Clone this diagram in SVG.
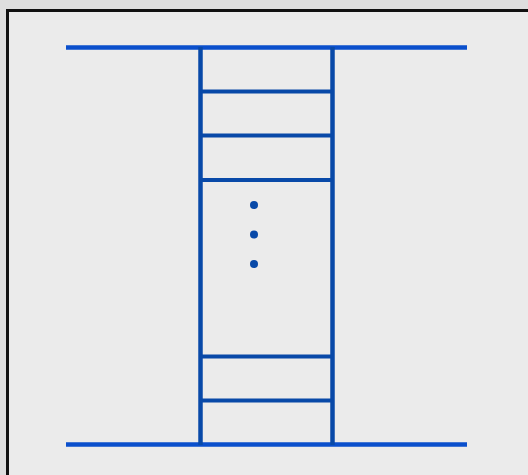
<svg xmlns="http://www.w3.org/2000/svg" width="528" height="475" viewBox="0 0 528 475">
<defs>
<style>
.rail{stroke:#0a4fcc;stroke-width:4.5;fill:none}
.post{stroke:#0849a8;stroke-width:4.5;fill:none}
.rung{stroke:#0849a8;stroke-width:4;fill:none}
.dot{fill:#0849a8}
</style>
</defs>
<rect x="0" y="0" width="528" height="475" fill="#dedede"/>
<rect x="7.5" y="10.5" width="530" height="475" fill="#ebebeb" stroke="#111" stroke-width="3"/>
<g id="top-line"><line class="rail" x1="66" y1="47.5" x2="467" y2="47.5"/></g>
<g id="bottom-line"><line class="rail" x1="66" y1="444.5" x2="467" y2="444.5"/></g>
<g id="ladder">
<line class="post" x1="200.5" y1="47" x2="200.5" y2="445"/>
<line class="post" x1="332.5" y1="47" x2="332.5" y2="445"/>
<line class="rung" x1="200.5" y1="91.5" x2="332.5" y2="91.5"/>
<line class="rung" x1="200.5" y1="135.5" x2="332.5" y2="135.5"/>
<line class="rung" x1="200.5" y1="180" x2="332.5" y2="180"/>
<line class="rung" x1="200.5" y1="356.5" x2="332.5" y2="356.5"/>
<line class="rung" x1="200.5" y1="400.5" x2="332.5" y2="400.5"/>
</g>
<g id="dots">
<circle class="dot" cx="254" cy="205" r="4"/>
<circle class="dot" cx="254" cy="234.5" r="4"/>
<circle class="dot" cx="254" cy="264" r="4"/>
</g>
</svg>
